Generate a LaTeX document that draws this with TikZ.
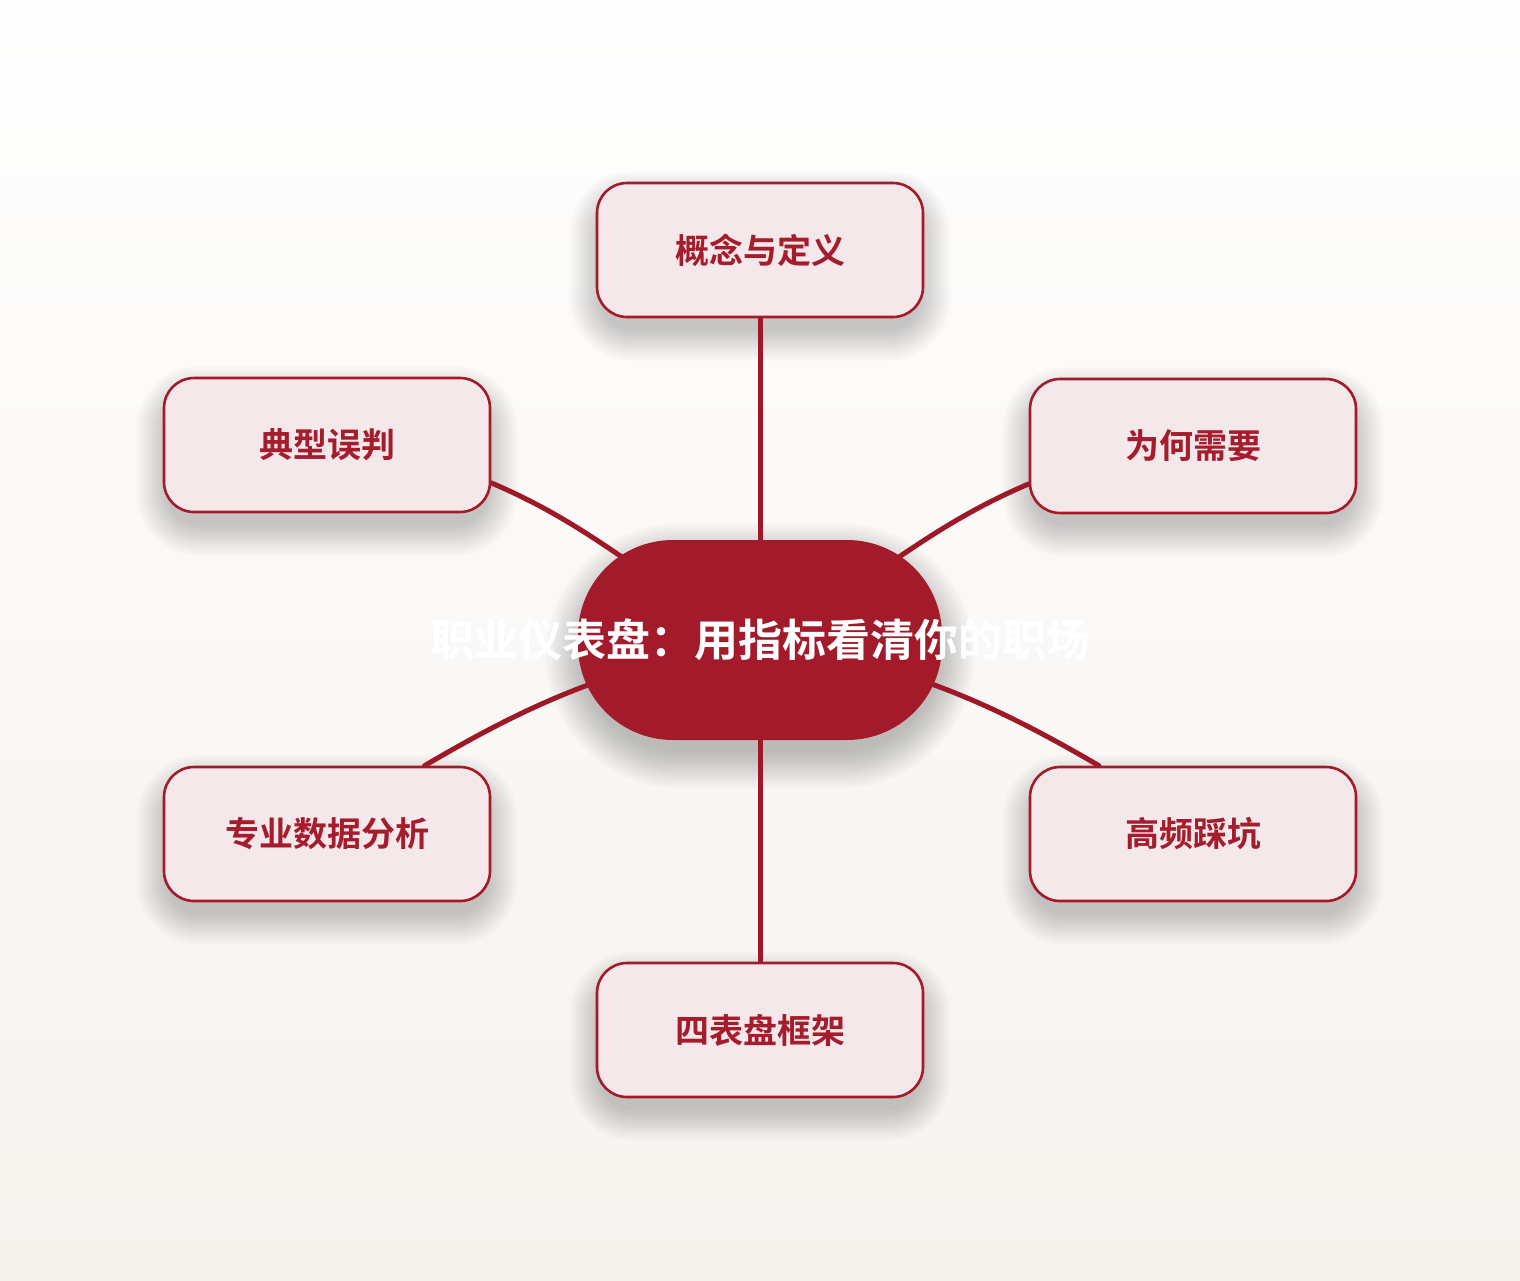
\documentclass[tikz,border=0pt]{standalone}
\usepackage{fontspec}
\setmainfont{Noto Sans CJK SC}[BoldFont={Noto Sans CJK SC Bold}]
\usetikzlibrary{calc}
\definecolor{dred}{HTML}{A31A2B}
\definecolor{lred}{HTML}{9E1828}
\definecolor{tred}{HTML}{A51C2C}
\definecolor{pinkfill}{HTML}{F4E8EB}
\definecolor{bgtop}{HTML}{FEFEFE}
\definecolor{bgbot}{HTML}{F6F3EF}
\pgfdeclarelayer{bg}
\pgfdeclarelayer{shadowlayer}
\pgfdeclarelayer{edges}
\pgfsetlayers{bg,shadowlayer,edges,main}
\tikzset{
  hub/.style={fill=dred, draw=none, rounded corners=95pt, minimum width=364pt, minimum height=200pt,
    inner sep=0pt, text=white, font=\bfseries\fontsize{44}{48}\selectfont},
  topic/.style={fill=pinkfill, draw=dred, line width=2.6pt, rounded corners=30pt,
    minimum width=326pt, minimum height=134pt, inner sep=0pt, text=tred,
    font=\bfseries\fontsize{34}{40}\selectfont},
  link/.style={draw=lred, line width=5pt, line cap=round},
  softshade/.style={fill=black, fill opacity=0.018, draw=none}
}
\begin{document}
\begin{tikzpicture}[x=1pt,y=-1pt]
\begin{pgfonlayer}{bg}
  \shade[top color=bgtop, bottom color=bgbot] (0,0) rectangle (1520,1280);
\end{pgfonlayer}
\useasboundingbox (0,0) rectangle (1520,1280);

\node[hub] (c) at (760,640) {\makebox[0pt]{职业仪表盘：用指标看清你的职场}};
\node[topic] (t)  at (760,250)  {概念与定义};
\node[topic] (ul) at (327,445)  {典型误判};
\node[topic] (ur) at (1193,446) {为何需要};
\node[topic] (ll) at (327,834)  {专业数据分析};
\node[topic] (lr) at (1193,834) {高频踩坑};
\node[topic] (b)  at (760,1030) {四表盘框架};

\begin{pgfonlayer}{shadowlayer}
  \foreach \n in {t,ul,ur,ll,lr,b}{
    \foreach \k in {2,5,...,32}{
      \fill[softshade, rounded corners={30+\k}]
        ($(\n.north west)+(-\k+6,-\k+22)$) rectangle ($(\n.south east)+(\k-6,\k+10)$);
    }
  }
  \foreach \k in {2,5,...,38}{
    \fill[softshade, fill opacity=0.02, rounded corners={95+\k}]
      ($(c.north west)+(-\k+6,-\k+22)$) rectangle ($(c.south east)+(\k-6,\k+10)$);
  }
\end{pgfonlayer}

\begin{pgfonlayer}{edges}
  \draw[link] (t.south) -- (c.center);
  \draw[link] (b.north) -- (c.center);
  \draw[link] (ul.-13.5) to[out=-23, in=155] (c.center);
  \draw[link] (ur.193.5) to[out=203, in=25] (c.center);
  \draw[link] (ll.35.8) to[bend left=10] (c.center);
  \draw[link] (lr.144.2) to[bend right=10] (c.center);
\end{pgfonlayer}
\end{tikzpicture}
\end{document}
